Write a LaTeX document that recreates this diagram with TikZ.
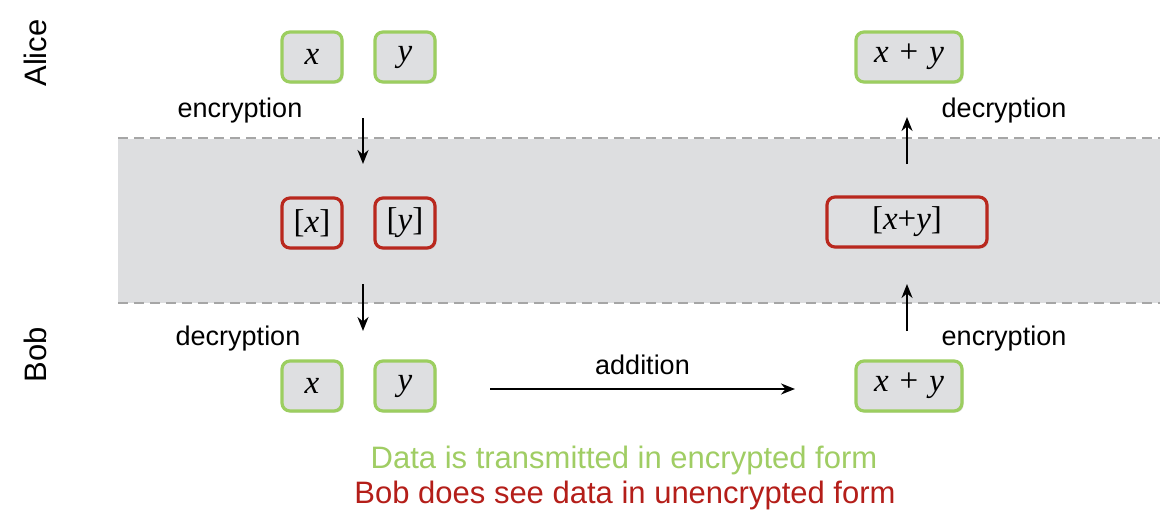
\documentclass[tikz,border=0pt]{standalone}
\usepackage{fontspec}
\setmainfont{Liberation Sans}
\newfontfamily\mathserif{Liberation Serif}
\usetikzlibrary{shadows,arrows.meta}
\definecolor{boxgreen}{RGB}{156,206,96}
\definecolor{boxred}{RGB}{185,40,30}
\definecolor{boxfill}{RGB}{222,223,225}
\definecolor{bandfill}{RGB}{221,222,224}
\definecolor{txtgreen}{RGB}{160,205,100}
\definecolor{txtred}{RGB}{180,30,25}
\newcommand{\mv}[1]{{\itshape #1}}
\tikzset{
  valbox/.style={draw=boxgreen, line width=1.6pt, fill=boxfill, rounded corners=4pt,
    minimum height=25pt, inner sep=0pt, font=\fontsize{16.5}{18}\selectfont\mathserif,
    drop shadow={opacity=0.25, shadow xshift=0.8pt, shadow yshift=-0.8pt}},
  encbox/.style={valbox, draw=boxred},
  lbl/.style={font=\fontsize{13.5}{16}\selectfont},
  flow/.style={-{Stealth[length=7pt,width=5.5pt]}, line width=1.1pt},
  bandline/.style={draw=gray!70, dashed, dash pattern=on 5pt off 3pt, line width=0.8pt},
}
\begin{document}
\begin{tikzpicture}[x=0.5pt,y=-0.5pt]
\useasboundingbox (0,0) rectangle (1172,520);
\fill[bandfill] (118,139) rectangle (1160,303);
\draw[bandline] (118,138) -- (1160,138);
\draw[bandline] (118,303) -- (1160,303);
% party labels
\node[rotate=90, font=\fontsize{15.5}{18}\selectfont] (alice) at (35,53) {Alice};
\node[rotate=90, font=\fontsize{15.5}{18}\selectfont] (bob) at (35,355) {Bob};
% Alice
\node[valbox, minimum width=30pt] (ax) at (312,57) {\mv{x}};
\node[valbox, minimum width=30pt] (ay) at (405,57) {\mv{y}};
\node[valbox, minimum width=53pt] (axy) at (909,57) {\mv{x}\,\,+\,\,\mv{y}};
% encrypted
\node[encbox, minimum width=30pt] (ex) at (312,223) {[\mv{x}]};
\node[encbox, minimum width=30pt] (ey) at (405,223) {[\mv{y}]};
\node[encbox, minimum width=80pt] (exy) at (907,222) {[\mv{x}+\mv{y}]};
% Bob
\node[valbox, minimum width=30pt] (bx) at (312,386) {\mv{x}};
\node[valbox, minimum width=30pt] (by) at (405,386) {\mv{y}};
\node[valbox, minimum width=53pt] (bxy) at (909,386) {\mv{x}\,\,+\,\,\mv{y}};
% arrows
\coordinate (a1s) at (363,118); \coordinate (a1e) at (363,164);
\coordinate (a2s) at (363,284); \coordinate (a2e) at (363,331);
\coordinate (a3s) at (907,164); \coordinate (a3e) at (907,117);
\coordinate (a4s) at (907,331); \coordinate (a4e) at (907,284);
\draw[flow] (a1s) -- (a1e);
\draw[flow] (a2s) -- (a2e);
\draw[flow] (a3s) -- (a3e);
\draw[flow] (a4s) -- (a4e);
\draw[flow] (490,389) -- node[lbl, above=3pt] (addl) {addition} (795,389);
% labels
\node[lbl] (l1) at (240,111) {encryption};
\node[lbl] (l2) at (1004,111) {decryption};
\node[lbl] (l3) at (238,339) {decryption};
\node[lbl] (l4) at (1004,339) {encryption};
% bottom texts
\node[font=\fontsize{15.5}{18}\selectfont, text=txtgreen] (t1) at (624,460) {Data is transmitted in encrypted form};
\node[font=\fontsize{15.5}{18}\selectfont, text=txtred] (t2) at (625,495) {Bob does see data in unencrypted form};
\end{tikzpicture}
\end{document}
